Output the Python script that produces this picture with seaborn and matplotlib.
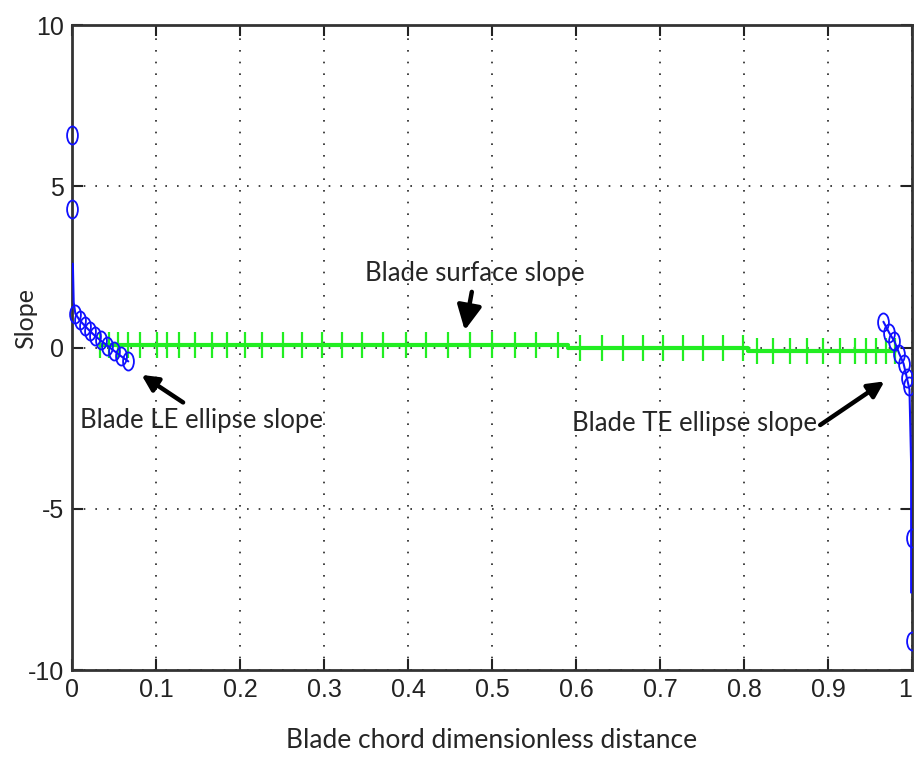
# Blade slope distribution along the chord (LE ellipse / surface / TE ellipse)

import numpy as np
import pandas as pd
import matplotlib
matplotlib.use("Agg")
import matplotlib.pyplot as plt
from matplotlib.path import Path
import seaborn as sns

# ==========================================
# Data
# ==========================================

# leading edge ellipse slope, circle markers
le_x = [0.0, 0.0, 0.004, 0.009, 0.015, 0.021, 0.027, 0.034, 0.042, 0.050, 0.058, 0.067]
le_y = [6.6, 4.3, 1.05, 0.85, 0.68, 0.52, 0.37, 0.22, 0.06, -0.1, -0.26, -0.43]
# leading edge line (runs up the axis a bit above the first cluster)
le_line_x = [0.001, 0.002, 0.004, 0.009, 0.015, 0.021, 0.027, 0.034, 0.042, 0.050, 0.058, 0.067]
le_line_y = [2.6, 1.4, 1.05, 0.85, 0.68, 0.52, 0.37, 0.22, 0.06, -0.1, -0.26, -0.43]

# trailing edge ellipse slope
te_x = [0.966, 0.973, 0.979, 0.985, 0.990, 0.994, 0.997, 1.0, 1.0]
te_y = [0.8, 0.45, 0.2, -0.2, -0.5, -0.95, -1.2, -5.9, -9.1]
te_line_x = [0.966, 0.973, 0.979, 0.985, 0.990, 0.994, 0.997, 0.999, 0.999]
te_line_y = [0.8, 0.45, 0.2, -0.2, -0.5, -0.95, -1.3, -3.6, -7.6]

# blade surface slope, three pieces
surf1_x = [0.033, 0.044, 0.055, 0.067, 0.081, 0.101, 0.113, 0.127, 0.146, 0.167, 0.185,
           0.206, 0.226, 0.251, 0.274, 0.298, 0.321, 0.345, 0.370, 0.398, 0.421, 0.448,
           0.474, 0.500, 0.527, 0.552, 0.579]
surf1_y = [0.08] * len(surf1_x)
surf1_end = 0.59

surf2_x = [0.605, 0.631, 0.656, 0.680, 0.704, 0.727, 0.751, 0.775, 0.799]
surf2_y = [0.0] * len(surf2_x)
surf2_start = 0.59
surf2_end = 0.805

surf3_x = [0.815, 0.835, 0.855, 0.875, 0.894, 0.914, 0.932, 0.945, 0.957, 0.969, 0.980]
surf3_y = [-0.1] * len(surf3_x)
surf3_start = 0.805

x_ticks = [0, 0.1, 0.2, 0.3, 0.4, 0.5, 0.6, 0.7, 0.8, 0.9, 1]
x_tick_labels = ["0", "0.1", "0.2", "0.3", "0.4", "0.5", "0.6", "0.7", "0.8", "0.9", "1"]
y_ticks = [-10, -5, 0, 5, 10]
y_tick_labels = ["-10", "-5", "0", "5", "10"]

# ==========================================
# Style
# ==========================================

sns.set_theme(style="white")
plt.rcParams["font.family"] = ["Lato", "DejaVu Sans"]

tick_font = dict(family=["Liberation Sans", "DejaVu Sans"], size=18)
label_font = dict(family=["Lato", "DejaVu Sans"], size=19)
note_size = 18.5

blue = "#1010ff"
green = "#22ee22"

# tall ellipse marker (the original picture is stretched vertically)
circ = Path.unit_circle()
ellipse = Path(circ.vertices * np.array([0.6, 1.0]), circ.codes)

fig = plt.figure(figsize=(9.15, 7.66), dpi=100)
ax = fig.add_axes([0.0787, 0.1253, 0.918, 0.842])

# ==========================================
# Lines
# ==========================================

def seg(x, y):
    return pd.DataFrame({"x": x, "y": y})

s1 = seg([surf1_x[0]] + surf1_x + [surf1_end], [surf1_y[0]] + surf1_y + [surf1_y[-1]])
s2 = seg([surf2_start] + surf2_x + [surf2_end], [surf2_y[0]] + surf2_y + [surf2_y[-1]])
s3 = seg([surf3_start] + surf3_x, [surf3_y[0]] + surf3_y)
for s in (s1, s2, s3):
    sns.lineplot(data=s, x="x", y="y", ax=ax, color=green, lw=3,
                 estimator=None, sort=False, zorder=3)

ax.plot(surf1_x + surf2_x + surf3_x, surf1_y + surf2_y + surf3_y, ls="none",
        marker="|", ms=19, mew=1.6, color=green, zorder=3)

sns.lineplot(data=seg(le_line_x, le_line_y), x="x", y="y", ax=ax, color=blue,
             lw=1.5, estimator=None, sort=False, zorder=4)
sns.lineplot(data=seg(te_line_x, te_line_y), x="x", y="y", ax=ax, color=blue,
             lw=1.5, estimator=None, sort=False, zorder=4)

ax.plot(le_x, le_y, ls="none", marker=ellipse, ms=13, mfc="none", mec=blue,
        mew=1.3, zorder=5, clip_on=False)
ax.plot(te_x, te_y, ls="none", marker=ellipse, ms=13, mfc="none", mec=blue,
        mew=1.3, zorder=5)

# ==========================================
# Axes
# ==========================================

ax.set_xlim(0, 1)
ax.set_ylim(-10, 10)
ax.set_xticks(x_ticks)
ax.set_xticklabels(x_tick_labels, fontdict=tick_font)
ax.set_yticks(y_ticks)
ax.set_yticklabels(y_tick_labels, fontdict=tick_font)
ax.get_xticklabels()[-1].set_ha("right")
ax.tick_params(direction="in", length=8, width=1.5, top=True, right=True,
               bottom=True, left=True, colors="#222222", pad=6)
ax.grid(True, color="#222222", ls=(0, (1, 6)), lw=1.2)
ax.set_axisbelow(True)
for sp in ax.spines.values():
    sp.set_color("#333333")
    sp.set_linewidth(2)

ax.set_xlabel("Blade chord dimensionless distance", fontdict=label_font)
ax.xaxis.set_label_coords(0.5, -0.09)
ax.set_ylabel("Slope", fontdict=dict(label_font, size=18))
ax.yaxis.set_label_coords(-0.042, 0.545)

# ==========================================
# Annotations
# ==========================================

arrow = dict(arrowstyle="-|>,head_length=0.8,head_width=0.4", color="black", lw=3.2)
ax.annotate("Blade surface slope", xy=(0.467, 0.45), xytext=(0.48, 2.3),
            ha="center", va="center", fontsize=note_size, arrowprops=arrow)
ax.annotate("", xy=(0.08, -0.8), xytext=(0.135, -1.75), arrowprops=arrow)
ax.text(0.01, -2.25, "Blade LE ellipse slope", ha="left", va="center", fontsize=note_size)
ax.annotate("", xy=(0.97, -1.0), xytext=(0.888, -2.45), arrowprops=arrow)
ax.text(0.887, -2.35, "Blade TE ellipse slope", ha="right", va="center", fontsize=note_size)

plt.savefig("out.png", dpi=100)
